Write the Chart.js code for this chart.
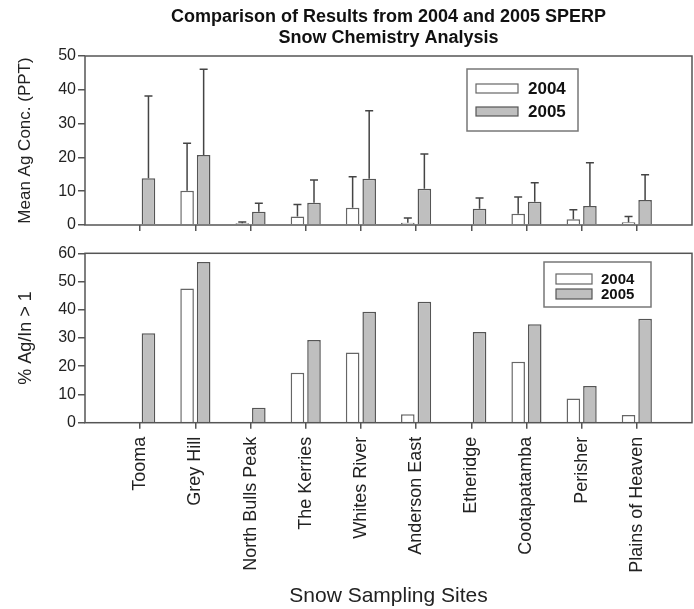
<!DOCTYPE html>
<html>
<head>
<meta charset="utf-8">
<script src="https://cdn.jsdelivr.net/npm/chart.js@4.4.1/dist/chart.umd.min.js"></script>
<style>
  body { margin: 0; background: #fff; }
  #topo { position: absolute; left: 0; top: 0; }
  #baixo { position: absolute; left: 0; top: 240px; }
</style>
</head>
<body>
<canvas id="topo" width="694" height="240"></canvas>
<canvas id="baixo" width="694" height="369"></canvas>
<script>
// Dados
const sites = ["Tooma", "Grey Hill", "North Bulls Peak", "The Kerries", "Whites River",
  "Anderson East", "Etheridge", "Cootapatamba", "Perisher", "Plains of Heaven"];
const years = ["2004", "2005"];

// Media Ag (PPT) e desvio superior
const mean2004 = [null, 10.1, 0.5, 2.5, 5.1, 0.7, null, 3.3, 1.7, 0.8];
const sd2004 = [null, 14.1, 0.4, 3.6, 9.2, 1.4, null, 5.0, 2.8, 1.7];
const mean2005 = [13.8, 20.7, 3.9, 6.6, 13.7, 10.7, 4.8, 6.9, 5.6, 7.4];
const sd2005 = [24.4, 25.4, 2.5, 6.7, 20.1, 10.3, 3.2, 5.6, 12.8, 7.5];

// % Ag/In > 1
const pct2004 = [null, 47.5, null, 17.7, 24.9, 3.0, null, 21.6, 8.6, 2.7];
const pct2005 = [31.7, 56.9, 5.3, 29.3, 39.3, 42.8, 32.1, 34.9, 13.0, 36.8];

const ticksTopo = [0, 10, 20, 30, 40, 50];
const ticksBaixo = [0, 10, 20, 30, 40, 50, 60];

const FONTE = "'Liberation Sans', Arial, sans-serif";
const CINZA = "#555";

function pontos(arr) {
  return arr.map((y, x) => ({ x: x, y: y }));
}

// Caixa em volta da area do grafico
const moldura = {
  id: "moldura",
  afterDatasetsDraw(chart) {
    const a = chart.chartArea;
    const ctx = chart.ctx;
    ctx.save();
    ctx.strokeStyle = CINZA;
    ctx.lineWidth = 1.5;
    ctx.strokeRect(a.left, a.top, a.right - a.left, a.bottom - a.top);
    ctx.restore();
  }
};

// Barras de erro (so para cima)
const barrasErro = {
  id: "barrasErro",
  afterDatasetsDraw(chart) {
    const ctx = chart.ctx;
    const y = chart.scales.y;
    ctx.save();
    ctx.strokeStyle = "#444";
    ctx.lineWidth = 1.5;
    chart.data.datasets.forEach((ds, i) => {
      if (!ds.erro) return;
      chart.getDatasetMeta(i).data.forEach((bar, j) => {
        const m = ds.data[j].y;
        const e = ds.erro[j];
        if (m == null || e == null) return;
        const yTopo = y.getPixelForValue(m + e);
        ctx.beginPath();
        ctx.moveTo(bar.x, bar.y);
        ctx.lineTo(bar.x, yTopo);
        ctx.moveTo(bar.x - 4, yTopo);
        ctx.lineTo(bar.x + 4, yTopo);
        ctx.stroke();
      });
    });
    ctx.restore();
  }
};

// Legenda dentro do grafico
const legendaCaixa = {
  id: "legendaCaixa",
  afterDraw(chart, args, opts) {
    const ctx = chart.ctx;
    ctx.save();
    ctx.strokeStyle = "#777";
    ctx.lineWidth = 1.5;
    ctx.strokeRect(opts.x, opts.y, opts.w, opts.h);
    ctx.font = "bold " + opts.fonte + "px " + FONTE;
    ctx.textBaseline = "middle";
    chart.data.datasets.forEach((ds, i) => {
      const yy = opts.linhas[i];
      ctx.fillStyle = ds.backgroundColor;
      ctx.fillRect(opts.sx, yy - opts.sh / 2, opts.sw, opts.sh);
      ctx.strokeStyle = ds.borderColor;
      ctx.lineWidth = 1.2;
      ctx.strokeRect(opts.sx, yy - opts.sh / 2, opts.sw, opts.sh);
      ctx.fillStyle = "#111";
      ctx.fillText(ds.label, opts.tx, yy + 1);
    });
    ctx.restore();
  }
};

function eixoX(mostrarRotulos, altura) {
  return {
    type: "linear",
    offset: false,
    min: -1,
    max: 10,
    afterBuildTicks: (s) => { s.ticks = sites.map((_, i) => ({ value: i })); },
    afterFit: (s) => { s.height = altura; },
    border: { display: false },
    grid: { offset: false, drawOnChartArea: false, drawTicks: true, tickLength: 6, color: CINZA, lineWidth: 1.5 },
    ticks: {
      display: mostrarRotulos,
      autoSkip: false,
      minRotation: 90,
      maxRotation: 90,
      padding: 8,
      color: "#222",
      font: { family: FONTE, size: 18 },
      callback: (v) => sites[v]
    },
    title: {
      display: mostrarRotulos,
      text: "Snow Sampling Sites",
      color: "#222",
      font: { family: FONTE, size: 21 },
      padding: { top: 8, bottom: 0 }
    }
  };
}

function eixoY(valores, titulo, tamanho) {
  return {
    min: valores[0],
    max: valores[valores.length - 1],
    afterBuildTicks: (s) => { s.ticks = valores.map((v) => ({ value: v })); },
    afterFit: (s) => { s.width = 85; },
    border: { display: false },
    grid: { drawOnChartArea: false, drawTicks: true, tickLength: 7, color: CINZA, lineWidth: 1.5 },
    ticks: { padding: 2, color: "#222", font: { family: FONTE, size: 16 } },
    title: {
      display: true,
      text: titulo,
      color: "#222",
      font: { family: FONTE, size: tamanho },
      padding: { top: 15, bottom: 0 }
    }
  };
}

function conjuntos(a, b, ea, eb) {
  return [
    { label: years[0], data: pontos(a), erro: ea, backgroundColor: "#ffffff", borderColor: "#666", borderWidth: 1.5 },
    { label: years[1], data: pontos(b), erro: eb, backgroundColor: "#bfbfbf", borderColor: "#555", borderWidth: 1.5 }
  ];
}

const comum = {
  responsive: false,
  animation: false,
  devicePixelRatio: 1,
  categoryPercentage: 0.6,
  barPercentage: 0.82
};

// Grafico de cima: concentracao media
new Chart(document.getElementById("topo"), {
  type: "bar",
  data: { datasets: conjuntos(mean2004, mean2005, sd2004, sd2005) },
  options: Object.assign({}, comum, {
    layout: { padding: { left: 0, right: 2, top: 0, bottom: 0 } },
    plugins: {
      legend: { display: false },
      tooltip: { enabled: false },
      title: {
        display: true,
        fullSize: false,
        text: ["Comparison of Results from 2004 and 2005 SPERP", "Snow Chemistry Analysis"],
        color: "#111",
        font: { family: FONTE, size: 18, weight: "bold", lineHeight: 1.15 },
        padding: { top: 7, bottom: 7.6 }
      },
      legendaCaixa: { x: 467, y: 69, w: 111, h: 62, sx: 476, sw: 42, sh: 9, tx: 528, fonte: 17, linhas: [88.5, 111.5] }
    },
    scales: { x: eixoX(false, 15), y: eixoY(ticksTopo, "Mean Ag Conc. (PPT)", 17) }
  }),
  plugins: [barrasErro, moldura, legendaCaixa]
});

// Grafico de baixo: % Ag/In > 1
new Chart(document.getElementById("baixo"), {
  type: "bar",
  data: { datasets: conjuntos(pct2004, pct2005, null, null) },
  options: Object.assign({}, comum, {
    layout: { padding: { left: 0, right: 2, top: 13.3, bottom: 0 } },
    plugins: {
      legend: { display: false },
      tooltip: { enabled: false },
      legendaCaixa: { x: 544, y: 22, w: 107, h: 45, sx: 556, sw: 36, sh: 10, tx: 601, fonte: 15, linhas: [39, 54] }
    },
    scales: { x: eixoX(true, 186.3), y: eixoY(ticksBaixo, "% Ag/In > 1", 18) }
  }),
  plugins: [moldura, legendaCaixa]
});
</script>
</body>
</html>
